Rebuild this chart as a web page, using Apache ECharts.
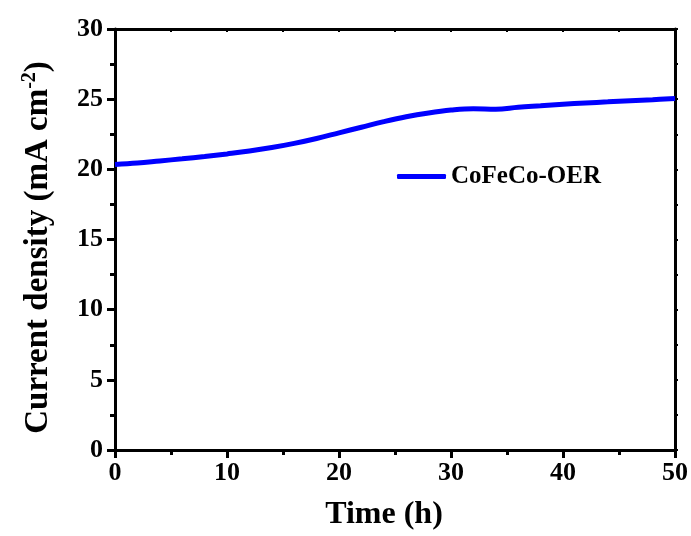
<!DOCTYPE html>
<html>
<head>
<meta charset="utf-8">
<script src="https://cdn.jsdelivr.net/npm/echarts@6/dist/echarts.min.js"></script>
<style>
  html, body { margin: 0; padding: 0; background: #fff; }
  #chart { width: 691px; height: 536px; }
</style>
</head>
<body>
<div id="chart"></div>
<script>
// Chronoamperometry trace: current density over time
const hours = [0, 2, 4, 6, 8, 10, 12, 14, 16, 18, 20, 22, 24, 26, 28, 30, 32, 34, 36, 38, 40, 42, 44, 46, 48, 50];
const currentDensity = [20.35, 20.45, 20.6, 20.75, 20.92, 21.1, 21.3, 21.55, 21.85, 22.2, 22.6, 23.0, 23.4, 23.75, 24.02, 24.22, 24.32, 24.28, 24.42, 24.53, 24.64, 24.73, 24.81, 24.89, 24.96, 25.05];
const seriesName = 'CoFeCo-OER';
const xTicks = [0, 10, 20, 30, 40, 50];
const yTicks = [0, 5, 10, 15, 20, 25, 30];

const font = 'Liberation Serif, Times New Roman, serif';
const points = hours.map((h, i) => [h, currentDensity[i]]);

const chart = echarts.init(document.getElementById('chart'), null, { renderer: 'canvas' });

const axisLine = { show: true, onZero: false, lineStyle: { color: '#000', width: 3 } };

chart.setOption({
  animation: false,
  backgroundColor: '#fff',
  grid: { left: 115, right: 16, top: 29, bottom: 86, containLabel: false },
  legend: {
    data: [seriesName],
    left: 392,
    top: 159,
    icon: 'roundRect',
    itemWidth: 49,
    itemHeight: 5,
    itemGap: 4,
    textStyle: { fontFamily: font, fontWeight: 'bold', fontSize: 25, color: '#000' },
    itemStyle: { color: '#0000ff' }
  },
  xAxis: [
    {
      type: 'value',
      min: xTicks[0],
      max: xTicks[xTicks.length - 1],
      interval: 10,
      position: 'bottom',
      name: 'Time (h)',
      nameLocation: 'middle',
      nameGap: 49,
      nameTextStyle: { fontFamily: font, fontWeight: 'bold', fontSize: 32, color: '#000', padding: [0, 22, 0, 0] },
      axisLine: axisLine,
      axisTick: { show: true, inside: false, length: 8, lineStyle: { color: '#000', width: 3 } },
      minorTick: { show: true, splitNumber: 2, length: 5, lineStyle: { color: '#000', width: 3 } },
      axisLabel: { fontFamily: font, fontWeight: 'bold', fontSize: 26, color: '#000', margin: 10 },
      splitLine: { show: false }
    },
    {
      type: 'value',
      min: xTicks[0],
      max: xTicks[xTicks.length - 1],
      interval: 10,
      position: 'top',
      axisLine: axisLine,
      axisTick: { show: true, inside: true, length: 3, lineStyle: { color: '#000', width: 2 } },
      minorTick: { show: true, splitNumber: 2, length: 3, lineStyle: { color: '#000', width: 2 } },
      axisLabel: { show: false },
      splitLine: { show: false }
    }
  ],
  yAxis: [
    {
      type: 'value',
      min: yTicks[0],
      max: yTicks[yTicks.length - 1],
      interval: 5,
      position: 'left',
      name: '{a|Current density (mA cm}{s|-2}{a|)}',
      nameLocation: 'middle',
      nameGap: 60,
      nameRotate: 90,
      nameTextStyle: {
        padding: [0, 16, 0, 0],
        rich: {
          a: { fontFamily: font, fontWeight: 'bold', fontSize: 33, color: '#000', verticalAlign: 'bottom' },
          s: { fontFamily: font, fontWeight: 'bold', fontSize: 20, color: '#000', verticalAlign: 'top', padding: [0, 0, 15, 0] }
        }
      },
      axisLine: axisLine,
      axisTick: { show: true, inside: false, length: 8, lineStyle: { color: '#000', width: 3 } },
      minorTick: { show: true, splitNumber: 2, length: 5, lineStyle: { color: '#000', width: 3 } },
      axisLabel: { fontFamily: font, fontWeight: 'bold', fontSize: 26, color: '#000', margin: 12 },
      splitLine: { show: false }
    },
    {
      type: 'value',
      min: yTicks[0],
      max: yTicks[yTicks.length - 1],
      interval: 5,
      position: 'right',
      axisLine: axisLine,
      axisTick: { show: true, inside: false, length: 3, lineStyle: { color: '#000', width: 2 } },
      minorTick: { show: true, splitNumber: 2, length: 3, lineStyle: { color: '#000', width: 2 } },
      axisLabel: { show: false },
      splitLine: { show: false }
    }
  ],
  series: [
    {
      name: seriesName,
      type: 'line',
      xAxisIndex: 0,
      yAxisIndex: 0,
      data: points,
      smooth: 0.4,
      showSymbol: false,
      symbol: 'none',
      lineStyle: { color: '#0000ff', width: 5 },
      itemStyle: { color: '#0000ff' },
      z: 1
    }
  ]
});
</script>
</body>
</html>
